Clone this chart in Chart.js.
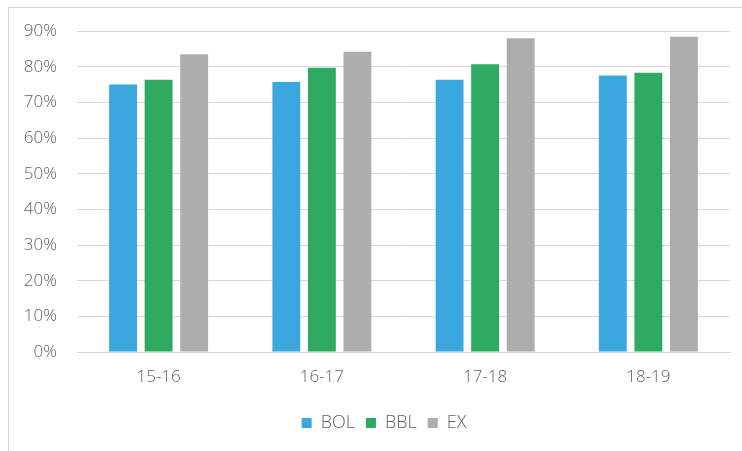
<!DOCTYPE html>
<html>
<head>
<meta charset="utf-8">
<script src="https://cdn.jsdelivr.net/npm/chart.js@4"></script>
<style>
  html, body { margin: 0; padding: 0; background: #ffffff; }
  body { width: 742px; height: 451px; position: relative; overflow: hidden; }
  #frame { position: absolute; left: 8px; top: 7px; width: 800px; height: 500px; border: 1px solid #d9d9d9; box-sizing: border-box; }
  #wrap { position: absolute; left: 0; top: 0; width: 742px; height: 451px; }
</style>
</head>
<body>
<div id="frame"></div>
<div id="wrap"><canvas id="c" width="742" height="451"></canvas></div>
<script>
const categories = ['15-16', '16-17', '17-18', '18-19'];
const seriesNames = ['BOL', 'BBL', 'EX'];
const bolValues = [75.0, 75.7, 76.3, 77.5];
const bblValues = [76.3, 79.7, 80.7, 78.3];
const exValues = [83.5, 84.2, 88.0, 88.4];
const yTicks = [0, 10, 20, 30, 40, 50, 60, 70, 80, 90];

const colors = ['#3ba7df', '#2faa62', '#adadad'];
const textColor = '#5f5f5f';
const fontFamily = "'Open Sans', 'Segoe UI', sans-serif";

const datasets = [bolValues, bblValues, exValues].map((vals, i) => ({
  label: seriesNames[i],
  data: vals,
  backgroundColor: colors[i],
  borderWidth: 0,
  categoryPercentage: 0.653,
  barPercentage: 0.785
}));

const legendShift = {
  id: 'legendShift',
  afterLayout(chart) {
    if (chart.legend) { chart.legend.left += 15; chart.legend.right += 15; }
  }
};

new Chart(document.getElementById('c'), {
  type: 'bar',
  data: { labels: categories, datasets },
  plugins: [legendShift],
  options: {
    responsive: false,
    animation: false,
    devicePixelRatio: 1,
    layout: { padding: { left: 8, right: 12, top: 31, bottom: 9 } },
    plugins: {
      tooltip: { enabled: false },
      legend: {
        position: 'bottom',
        labels: {
          boxWidth: 10,
          boxHeight: 10,
          padding: 11,
          color: textColor,
          font: { family: fontFamily, size: 18, weight: '300' }
        }
      }
    },
    scales: {
      x: {
        grid: { display: false, drawTicks: false },
        border: { display: true, color: '#d9d9d9' },
        ticks: { color: textColor, padding: 15, font: { family: fontFamily, size: 17, weight: '300' } },
        afterFit: (s) => { s.height = 51; }
      },
      y: {
        min: 0,
        max: 90,
        afterBuildTicks: (s) => { s.ticks = yTicks.map(v => ({ value: v })); },
        grid: { color: '#d9d9d9', drawTicks: false },
        border: { display: false },
        ticks: {
          color: textColor,
          padding: 20,
          font: { family: fontFamily, size: 17, weight: '300' },
          callback: (v) => v + '%'
        },
        afterFit: (s) => { s.width = 69; }
      }
    }
  }
});
</script>
</body>
</html>
